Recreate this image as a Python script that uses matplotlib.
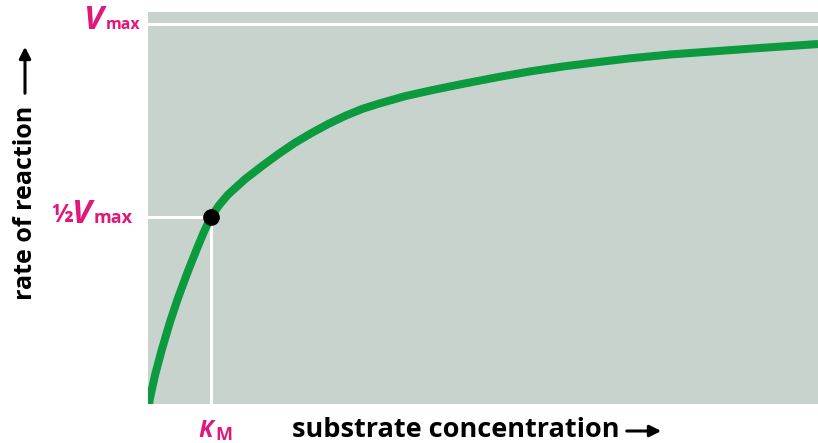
"""Michaelis-Menten saturation curve"""

import matplotlib
matplotlib.use("Agg")
import matplotlib.pyplot as plt
from matplotlib.patches import FancyArrowPatch

# curve: substrate in units of K_M, rate in units of V_max
substrate = [0.0, 0.032, 0.111, 0.222, 0.349, 0.476, 0.635, 0.794, 0.9, 1.0,
             1.13, 1.27, 1.54, 1.81, 2.06, 2.33, 2.60, 2.86, 3.13, 3.40, 3.65,
             4.08, 4.52, 5.0, 5.54, 6.06, 6.59, 7.13, 7.65, 8.29, 9.56, 10.63]
rate = [0.0, 0.031, 0.090, 0.158, 0.228, 0.290, 0.360, 0.425, 0.466, 0.5,
        0.531, 0.558, 0.598, 0.632, 0.662, 0.692, 0.718, 0.741, 0.762, 0.780,
        0.793, 0.813, 0.829, 0.845, 0.862, 0.877, 0.890, 0.901, 0.911, 0.921,
        0.936, 0.948]
km = 1.0
vmax = 1.0

W, H = 818, 443
pink = "#e0187c"
green = "#0b9a3e"
bg = "#c9d3ce"
font = "Open Sans"

fig = plt.figure(figsize=(W / 100, H / 100), dpi=100)
ax = fig.add_axes([148 / W, 1 - 404 / H, 1 - 148 / W, 392 / H])
ax.set_facecolor(bg)
ax.set_xlim(0, 10.63)
ax.set_ylim(0.0155, 1.031)
for s in ax.spines.values():
    s.set_visible(False)
ax.set_xticks([])
ax.set_yticks([])

ax.axhline(vmax, color="white", lw=2.2, zorder=1)
ax.plot([0, km], [vmax / 2, vmax / 2], color="white", lw=2.2, zorder=1)
ax.plot([km, km], [0, vmax / 2], color="white", lw=2.2, zorder=1)
ax.plot(substrate, rate, color=green, lw=5.8, solid_capstyle="butt",
        solid_joinstyle="round", zorder=2)
ax.plot([km], [vmax / 2], "o", color="black", ms=11, zorder=3)


def ftext(px, py, s, **kw):
    # place text by pixel position measured from the top-left corner
    fig.text(px / W, 1 - py / H, s, family=font, va="baseline", ha="left", **kw)


# V_max label
ftext(84, 29, "V", color=pink, fontsize=24, weight="bold", style="italic")
ftext(106, 29, "max", color=pink, fontsize=11.5, weight="bold")
# 1/2 V_max label
ftext(51, 222, "½", color=pink, fontsize=18, weight="bold")
ftext(72, 223, "V", color=pink, fontsize=24, weight="bold", style="italic")
ftext(94, 223, "max", color=pink, fontsize=13, weight="bold")
# K_M label
ftext(198, 437, "K", color=pink, fontsize=17, weight="bold", style="italic")
ftext(215, 440, "M", color=pink, fontsize=13, weight="bold")

# axis titles with arrows
ftext(292, 437, "substrate concentration", color="black", fontsize=19.5,
      weight="bold")
fig.add_artist(FancyArrowPatch(
    (624 / W, 1 - 431 / H), (664 / W, 1 - 431 / H), transform=fig.transFigure,
    arrowstyle="-|>", mutation_scale=17, lw=2.2, color="black"))
ftext(32, 300, "rate of reaction", color="black", fontsize=18,
      weight="bold", rotation=90, rotation_mode="anchor")
fig.add_artist(FancyArrowPatch(
    (25 / W, 1 - 96 / H), (25 / W, 1 - 44 / H), transform=fig.transFigure,
    arrowstyle="-|>", mutation_scale=17, lw=2.2, color="black"))

fig.savefig("out.png", dpi=100)
